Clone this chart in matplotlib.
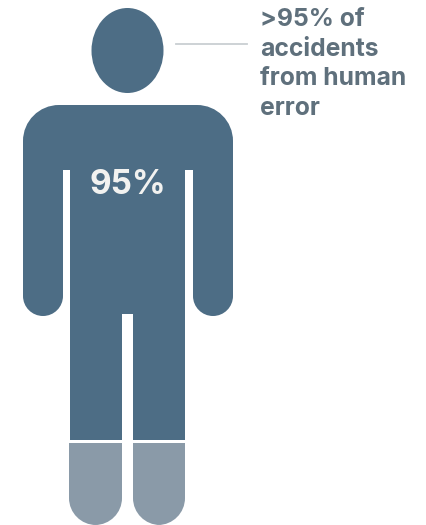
import matplotlib
matplotlib.use('Agg')
import matplotlib.pyplot as plt
from matplotlib.patches import Ellipse, Rectangle, PathPatch
from matplotlib.path import Path

# values and labels from the picture
big_label = '95%'
note_lines = ['>95% of', 'accidents', 'from human', 'error']

DARK = '#4d6d85'
LIGHT = '#8a9aa8'
TEXT = '#5f707c'
K = 0.5523


def rounded(x0, y0, x1, y1, rtop, rbot):
    # rounded box in pixel coords, y goes down
    v = [(x0, y0 + rtop),
         (x0, y0 + rtop - K * rtop), (x0 + rtop - K * rtop, y0), (x0 + rtop, y0),
         (x1 - rtop, y0),
         (x1 - rtop + K * rtop, y0), (x1, y0 + rtop - K * rtop), (x1, y0 + rtop),
         (x1, y1 - rbot),
         (x1, y1 - rbot + K * rbot), (x1 - rbot + K * rbot, y1), (x1 - rbot, y1),
         (x0 + rbot, y1),
         (x0 + rbot - K * rbot, y1), (x0, y1 - rbot + K * rbot), (x0, y1 - rbot),
         (x0, y0 + rtop)]
    c = [Path.MOVETO,
         Path.CURVE4, Path.CURVE4, Path.CURVE4,
         Path.LINETO,
         Path.CURVE4, Path.CURVE4, Path.CURVE4,
         Path.LINETO,
         Path.CURVE4, Path.CURVE4, Path.CURVE4,
         Path.LINETO,
         Path.CURVE4, Path.CURVE4, Path.CURVE4,
         Path.CLOSEPOLY]
    return Path(v, c)


fig = plt.figure(figsize=(4.26, 5.25), dpi=100)
ax = fig.add_axes([0, 0, 1, 1])
ax.set_xlim(0, 426)
ax.set_ylim(525, 0)
ax.axis('off')

# head and leader line
ax.add_patch(Ellipse((127.5, 50.5), 72, 85, color=DARK, lw=0))
ax.plot([176, 247], [44, 44], color='#c9cfd2', lw=1.3)

# shoulders, arms, body
ax.add_patch(PathPatch(rounded(23, 105, 233, 190, 36, 0), color=DARK, lw=0))
ax.add_patch(PathPatch(rounded(23, 170, 63, 316, 0, 20), color=DARK, lw=0))
ax.add_patch(PathPatch(rounded(193, 170, 233, 316, 0, 20), color=DARK, lw=0))
ax.add_patch(Rectangle((70, 170), 115, 270, color=DARK, lw=0))
ax.add_patch(Rectangle((63, 170), 7, 30, color='white', lw=0))
ax.add_patch(Rectangle((185, 170), 8, 30, color='white', lw=0))

# gap between the legs
ax.add_patch(Rectangle((122, 314), 11, 130, color='white', lw=0))

# lower legs
ax.add_patch(PathPatch(rounded(69, 443, 122, 525, 0, 27), color=LIGHT, lw=0))
ax.add_patch(PathPatch(rounded(133, 443, 185, 525, 0, 27), color=LIGHT, lw=0))

ax.text(127.5, 194, big_label, color='#f2f2f0', fontsize=24, fontweight='bold',
        family='Inter', ha='center', va='baseline')

for i, line in enumerate(note_lines):
    ax.text(260, 26 + i * 29.7, line, color=TEXT, fontsize=17.8, fontweight='bold',
            family='Inter', ha='left', va='baseline')

fig.savefig('out.png', dpi=100)
